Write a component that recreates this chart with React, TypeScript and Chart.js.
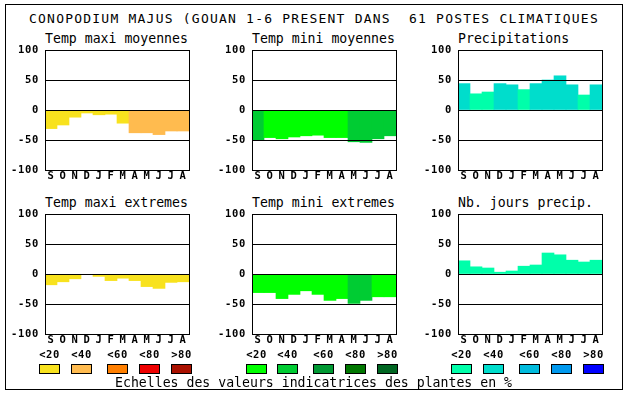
import React, { useEffect, useRef } from 'react';
import { Chart, registerables } from 'chart.js';
Chart.register(...registerables);

// ---- data ----
const title = 'CONOPODIUM MAJUS (GOUAN 1-6 PRESENT DANS  61 POSTES CLIMATIQUES';
const months = ['S', 'O', 'N', 'D', 'J', 'F', 'M', 'A', 'M', 'J', 'J', 'A'];
const yTicks = [-100, -50, 0, 50, 100];
const scaleLabels = ['<20', '<40', '<60', '<80', '>80'];
const footer = 'Echelles des valeurs indicatrices des plantes en %';

const tempMaxiMoy = [-31, -25, -12, -5, -8, -7, -22, -38, -38, -41, -35, -35];
const tempMaxiMoyCls = [0, 0, 0, 0, 0, 0, 0, 1, 1, 1, 1, 1];
const tempMiniMoy = [-50, -46, -48, -45, -43, -42, -46, -46, -53, -54, -48, -43];
const tempMiniMoyCls = [1, 0, 0, 0, 0, 0, 0, 0, 1, 1, 1, 1];
const precip = [44, 27, 30, 44, 42, 34, 44, 50, 57, 42, 25, 42];
const precipCls = [1, 0, 0, 1, 1, 0, 1, 1, 1, 1, 0, 1];
const tempMaxiExt = [-18, -13, -8, -1, -4, -11, -7, -11, -21, -24, -14, -13];
const tempMaxiExtCls = [0, 0, 0, 0, 0, 0, 0, 0, 0, 0, 0, 0];
const tempMiniExt = [-31, -31, -41, -34, -28, -34, -44, -41, -49, -44, -38, -38];
const tempMiniExtCls = [0, 0, 0, 0, 0, 0, 0, 0, 1, 1, 0, 0];
const nbJours = [22, 12, 10, 3, 5, 13, 15, 35, 32, 23, 20, 23];
const nbJoursCls = [0, 0, 0, 0, 0, 0, 0, 0, 0, 0, 0, 0];

// ---- styles ----
const warm = ['#F8E21E', '#FFBB4F', '#FF7F00', '#EE0000', '#AA1100'];
const green = ['#00FF00', '#00CC33', '#009933', '#007700', '#006622'];
const blue = ['#00FFAA', '#00DDCC', '#00BBDD', '#0099EE', '#0000FF'];
const MONO = "'DejaVu Sans Mono', monospace";

const framePlugin = {
  id: 'frame',
  beforeDraw(chart: any) {
    chart.ctx.letterSpacing = '0.7px';
  },
  afterDraw(chart: any) {
    const { ctx, chartArea } = chart;
    const { left, top, right, bottom } = chartArea;
    ctx.save();
    ctx.strokeStyle = '#000';
    ctx.lineWidth = 1;
    ctx.strokeRect(left + 0.5, top + 0.5, right - left, bottom - top);
    ctx.restore();
  },
};

type PanelProps = {
  values: number[];
  classes: number[];
  palette: string[];
  left: number;
  top: number;
};

function Panel({ values, classes, palette, left, top }: PanelProps) {
  const ref = useRef<HTMLCanvasElement>(null);
  useEffect(() => {
    const chart = new Chart(ref.current as HTMLCanvasElement, {
      type: 'bar',
      data: {
        labels: months,
        datasets: [
          {
            data: values,
            backgroundColor: classes.map((c) => palette[c]),
            borderWidth: 0,
            barPercentage: 1,
            categoryPercentage: 1,
          },
        ],
      },
      options: {
        animation: false,
        responsive: false,
        maintainAspectRatio: false,
        devicePixelRatio: 1,
        layout: { padding: { top: 6, right: 6, left: 0, bottom: 0 } },
        plugins: { legend: { display: false }, tooltip: { enabled: false } },
        scales: {
          x: {
            grid: { display: false, drawTicks: false },
            border: { display: false },
            ticks: {
              font: { family: MONO, weight: 'bold', size: 10.5 },
              color: '#000',
              padding: 0,
              autoSkip: false,
              maxRotation: 0,
            },
            afterFit: (s: any) => {
              s.height = 16;
              s.paddingLeft = 0;
              s.paddingRight = 0;
            },
          },
          y: {
            min: -100,
            max: 100,
            afterBuildTicks: (s: any) => {
              s.ticks = yTicks.map((v) => ({ value: v }));
            },
            grid: { color: '#000', lineWidth: 1, drawTicks: false, z: 1 },
            border: { display: false },
            ticks: {
              font: { family: MONO, weight: 'bold', size: 10.5 },
              color: '#000',
              padding: 6,
            },
            afterFit: (s: any) => {
              s.width = 40;
              s.paddingTop = 0;
              s.paddingBottom = 0;
            },
          },
        },
      } as any,
      plugins: [framePlugin],
    });
    return () => chart.destroy();
  }, []);
  return (
    <canvas
      ref={ref}
      width={190}
      height={142}
      style={{ position: 'absolute', left, top, width: 190, height: 142 }}
    />
  );
}

const txt = (size: number, extra: any = {}) => ({
  position: 'absolute' as const,
  fontFamily: MONO,
  fontSize: size,
  lineHeight: size + 'px',
  whiteSpace: 'pre' as const,
  color: '#000',
  ...extra,
});

const plotLefts = [45, 252, 458];
const swatchLefts = [
  [39, 71, 107, 139, 171],
  [246, 277, 313, 345, 377],
  [451, 483, 519, 551, 583],
];

export default function App() {
  const panels = [
    { t: 'Temp maxi moyennes', v: tempMaxiMoy, c: tempMaxiMoyCls, p: warm, col: 0, row: 0 },
    { t: 'Temp mini moyennes', v: tempMiniMoy, c: tempMiniMoyCls, p: green, col: 1, row: 0 },
    { t: 'Precipitations', v: precip, c: precipCls, p: blue, col: 2, row: 0 },
    { t: 'Temp maxi extremes', v: tempMaxiExt, c: tempMaxiExtCls, p: warm, col: 0, row: 1 },
    { t: 'Temp mini extremes', v: tempMiniExt, c: tempMiniExtCls, p: green, col: 1, row: 1 },
    { t: 'Nb. jours precip.', v: nbJours, c: nbJoursCls, p: blue, col: 2, row: 1 },
  ];
  const palettes = [warm, green, blue];
  return (
    <div style={{ position: 'absolute', left: 0, top: 0, width: 630, height: 394, background: '#fff', overflow: 'hidden' }}>
      <div style={{ position: 'absolute', left: 5, top: 4, width: 618, height: 386, border: '1px solid #000', boxSizing: 'border-box' }} />
      <div style={txt(13, { left: 29, top: 12, letterSpacing: '1.22px' })}>{title}</div>
      {panels.map((p, i) => (
        <React.Fragment key={i}>
          <div style={txt(13.2, { left: plotLefts[p.col], top: p.row === 0 ? 31.7 : 195.7 })}>{p.t}</div>
          <Panel values={p.v} classes={p.c} palette={p.p} left={plotLefts[p.col] - 40} top={p.row === 0 ? 44 : 208} />
        </React.Fragment>
      ))}
      {swatchLefts.map((row, ci) =>
        row.map((x, k) => (
          <React.Fragment key={ci + '-' + k}>
            <div style={txt(10.5, { left: x - 10, width: 41, textAlign: 'center', top: 349, fontWeight: 'bold', letterSpacing: '0.5px' })}>{scaleLabels[k]}</div>
            <div style={{ position: 'absolute', left: x, top: 364, width: 21, height: 10, boxSizing: 'border-box', border: '1px solid #000', background: palettes[ci][k] }} />
          </React.Fragment>
        ))
      )}
      <div style={txt(13.2, { left: 115, top: 376 })}>{footer}</div>
    </div>
  );
}
